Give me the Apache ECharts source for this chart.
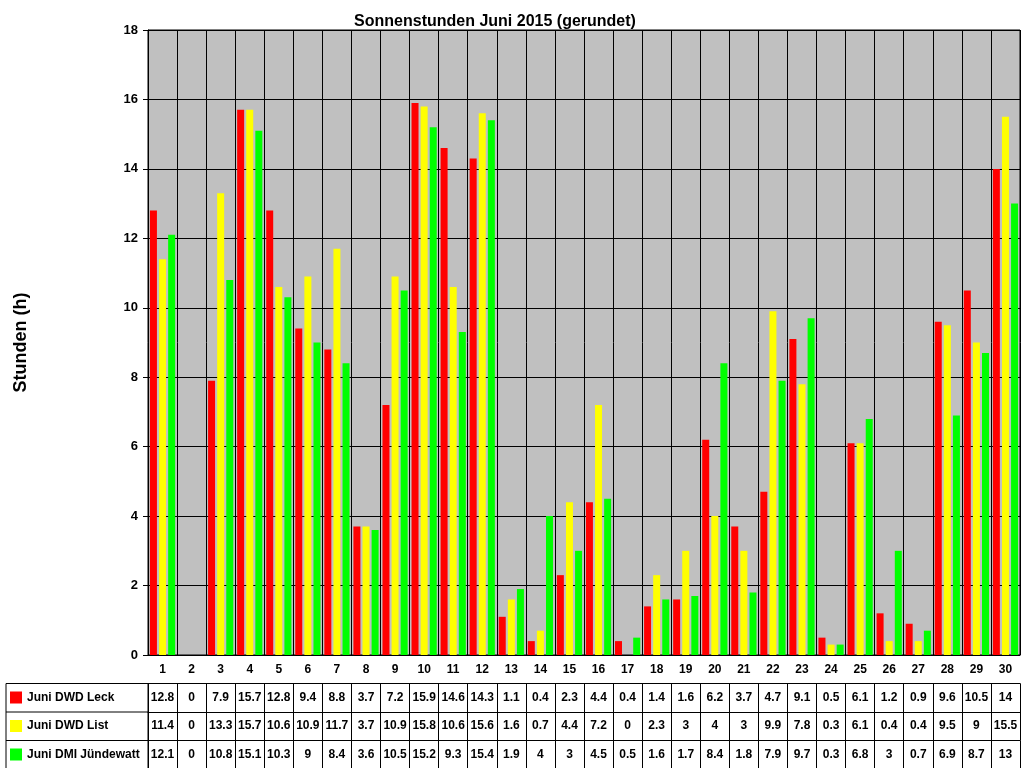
<!DOCTYPE html>
<html><head><meta charset="utf-8">
<script src="https://cdn.jsdelivr.net/npm/echarts@6/dist/echarts.min.js"></script>
<style>html,body{margin:0;padding:0;background:#fff}#c{width:1024px;height:768px}</style>
</head><body><div id="c"></div>
<script>
const days = Array.from({length:30},(_,i)=>String(i+1));
const leck = [12.8,0,7.9,15.7,12.8,9.4,8.8,3.7,7.2,15.9,14.6,14.3,1.1,0.4,2.3,4.4,0.4,1.4,1.6,6.2,3.7,4.7,9.1,0.5,6.1,1.2,0.9,9.6,10.5,14];
const list = [11.4,0,13.3,15.7,10.6,10.9,11.7,3.7,10.9,15.8,10.6,15.6,1.6,0.7,4.4,7.2,0,2.3,3,4,3,9.9,7.8,0.3,6.1,0.4,0.4,9.5,9,15.5];
const juen = [12.1,0,10.8,15.1,10.3,9,8.4,3.6,10.5,15.2,9.3,15.4,1.9,4,3,4.5,0.5,1.6,1.7,8.4,1.8,7.9,9.7,0.3,6.8,3,0.7,6.9,8.7,13];
const names = ['Juni DWD Leck','Juni DWD List','Juni DMI Jündewatt'];
const colors = ['#ff0000','#ffff00','#00ff00'];
const F = 'Arial, Liberation Sans, sans-serif';
const ROW = 28.5;
function tableAxis(data, off, showLabel){
  return {type:'category', data:data, position:'bottom', offset:off, gridIndex:0,
    axisLine:{show:true,lineStyle:{color:'#000',width:1}},
    axisTick:{show:true,length:ROW,inside:false,lineStyle:{color:'#000'}},
    axisLabel:{show:showLabel,interval:0,margin:8,color:'#000',fontFamily:F,fontWeight:'bold',fontSize:12},
    splitLine:{show:false}};
}
const chart = echarts.init(document.getElementById('c'));
chart.setOption({
  animation:false,
  backgroundColor:'#fff',
  title:{text:'Sonnenstunden Juni 2015 (gerundet)',left:490,textAlign:'center',top:9,
    textStyle:{fontFamily:F,fontWeight:'bold',fontSize:16,color:'#000'}},
  legend:names.map((n,i)=>({left:6,top:655+ROW*(i+1)+8,itemWidth:12,itemHeight:12,icon:'rect',padding:[0,0,0,4],
    textStyle:{fontFamily:F,fontWeight:'bold',fontSize:12,color:'#000'},data:[n]})),
  grid:{left:148,right:4,top:30,bottom:113,show:true,backgroundColor:'#c0c0c0',borderColor:'#000',borderWidth:1},
  xAxis:[
    {type:'category',data:days,position:'bottom',
      axisLine:{lineStyle:{color:'#000'}},
      axisTick:{length:ROW,lineStyle:{color:'#000'}},
      axisLabel:{interval:0,margin:9,color:'#000',fontFamily:F,fontWeight:'bold',fontSize:12},
      splitLine:{show:true,interval:0,lineStyle:{color:'#000',width:1}}},
    tableAxis(leck.map(String),ROW,true),
    tableAxis(list.map(String),ROW*2,true),
    tableAxis(juen.map(String),ROW*3,true),
    Object.assign(tableAxis(days,ROW*4,false),{axisTick:{show:false}})
  ],
  yAxis:{type:'value',min:0,max:18,interval:2,name:'Stunden (h)',nameLocation:'middle',nameGap:118,
    nameTextStyle:{fontFamily:F,fontWeight:'bold',fontSize:18,color:'#000'},
    axisLine:{show:true,lineStyle:{color:'#000'}},axisTick:{show:true,lineStyle:{color:'#000'}},
    axisLabel:{color:'#000',fontFamily:F,fontWeight:'bold',fontSize:13,margin:10},
    splitLine:{lineStyle:{color:'#000',width:1}}},
  graphic:[
    {type:'rect',shape:{x:6,y:655+ROW,width:142,height:ROW*3},style:{fill:'none',stroke:'#000',lineWidth:1}},
    {type:'line',shape:{x1:6,y1:655+ROW*2,x2:148,y2:655+ROW*2},style:{stroke:'#000'}},
    {type:'line',shape:{x1:6,y1:655+ROW*3,x2:148,y2:655+ROW*3},style:{stroke:'#000'}}
  ],
  series:[leck,list,juen].map((d,i)=>({name:names[i],type:'bar',data:d,barWidth:7,barGap:'30%',
    itemStyle:{color:colors[i]}}))
});
</script></body></html>
